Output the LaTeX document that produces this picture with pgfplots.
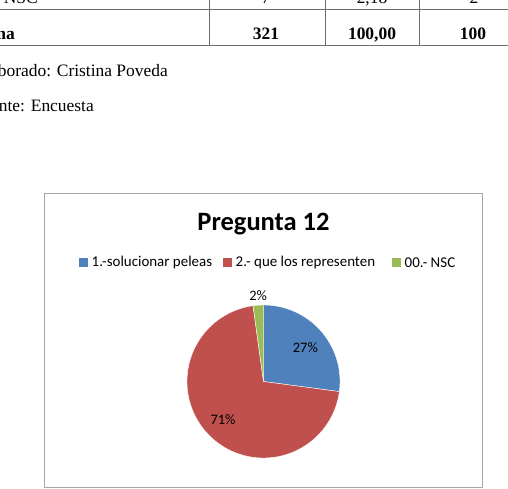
\documentclass[border=0pt]{standalone}
\usepackage{pgfplots}
\pgfplotsset{compat=1.18}
\usepgfplotslibrary{polar}
\usepackage{fontspec}
\setmainfont{Liberation Serif}
\newfontfamily\calib{Carlito}
\definecolor{xblue}{HTML}{4F81BD}
\definecolor{xred}{HTML}{C0504D}
\definecolor{xgreen}{HTML}{9BBB59}
\definecolor{tline}{HTML}{6E6E6E}
\definecolor{boxline}{HTML}{A6A6A6}
% counts (Total 321)
\def\cA{87}
\def\cB{227}
\def\cC{7}
\def\cT{321}
\begin{document}
\begin{tikzpicture}[x=1bp,y=1bp]
\useasboundingbox (0,-489) rectangle (508,0);
\fill[white] (0,-489) rectangle (508,0);
\begin{scope}
\clip (0,-489) rectangle (508,0);
% table fragment
\draw[tline,line width=0.8bp] (-5,-9) -- (515,-9);
\draw[tline,line width=0.8bp] (-5,-45) -- (515,-45);
\foreach \xx in {209,325,419} \draw[tline,line width=0.8bp] (\xx,5) -- (\xx,-45);
\node[anchor=base east,font=\fontsize{17.5}{20}\selectfont,inner sep=0] at (38,-4) {NSC};
\node[anchor=base,font=\fontsize{17.5}{20}\selectfont,inner sep=0] at (266,-4) {7};
\node[anchor=base,font=\fontsize{17.5}{20}\selectfont,inner sep=0] at (372,-4) {2,18};
\node[anchor=base,font=\fontsize{17.5}{20}\selectfont,inner sep=0] at (474,-4) {2};
\node[anchor=base east,font=\fontsize{17.5}{20}\selectfont\bfseries,inner sep=0] at (15,-40) {Suma};
\node[anchor=base,font=\fontsize{17.5}{20}\selectfont\bfseries,inner sep=0] at (266,-40) {321};
\node[anchor=base,font=\fontsize{17.5}{20}\selectfont\bfseries,inner sep=0] at (372,-40) {100,00};
\node[anchor=base,font=\fontsize{17.5}{20}\selectfont\bfseries,inner sep=0] at (473,-40) {100};
\node[anchor=base east,font=\fontsize{17.5}{20}\selectfont,inner sep=0] at (168,-77) {Elaborado: Cristina Poveda};
\node[anchor=base east,font=\fontsize{17.5}{20}\selectfont,inner sep=0] at (94,-112) {Fuente: Encuesta};
\end{scope}
% chart box
\draw[boxline,line width=1bp] (44.5,-193) rectangle (482.5,-487);
\node[anchor=base,font=\calib\fontsize{26.6}{30}\selectfont\bfseries,inner sep=0] at (263.5,-230) {Pregunta 12};
% legend
\fill[xblue] (79,-258) rectangle (88,-267);
\node[anchor=west,font=\calib\fontsize{15}{17}\selectfont,inner sep=0] at (91.5,-262.5) {1.-solucionar peleas};
\fill[xred] (223,-258) rectangle (232,-267);
\node[anchor=west,font=\calib\fontsize{15}{17}\selectfont,inner sep=0] at (235.5,-262.5) {2.- que los representen};
\fill[xgreen] (392,-258) rectangle (401,-267);
\node[anchor=west,font=\calib\fontsize{15}{17}\selectfont,inner sep=0] at (404.5,-262.5) {00.- NSC};
% pie
\pgfmathsetmacro{\aA}{90-\cA/\cT*360}
\pgfmathsetmacro{\aB}{\aA-\cB/\cT*360}
\pgfmathsetmacro{\aC}{\aB-\cC/\cT*360}
\begin{polaraxis}[at={(263.5bp,-381.5bp)},anchor=center,
  scale only axis,width=153bp,height=153bp,
  ymin=0,ymax=1,xmin=0,xmax=360,hide axis,clip=false]
\addplot[fill=xblue,draw=white,line width=0.4bp,domain=\aA:90,samples=80] {1} -- (axis cs:0,0) -- cycle;
\addplot[fill=xred,draw=white,line width=0.4bp,domain=\aB:\aA,samples=160] {1} -- (axis cs:0,0) -- cycle;
\addplot[fill=xgreen,draw=white,line width=0.4bp,domain=\aC:\aB,samples=10] {1} -- (axis cs:0,0) -- cycle;
\node[font=\calib\fontsize{14.5}{16}\selectfont] at (axis cs:38.6,0.70) {27\%};
\node[font=\calib\fontsize{14.5}{16}\selectfont] at (axis cs:223.5,0.73) {71\%};
\node[font=\calib\fontsize{14.5}{16}\selectfont] at (axis cs:93.5,1.13) {2\%};
\end{polaraxis}
\end{tikzpicture}
\end{document}
